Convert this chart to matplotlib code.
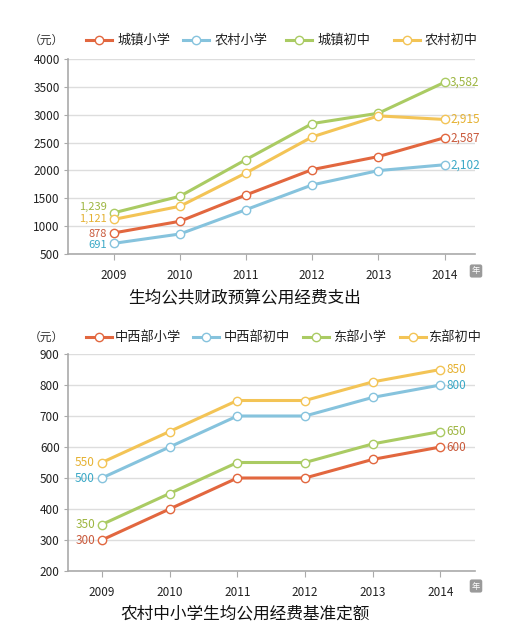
import matplotlib
matplotlib.use("Agg")
import matplotlib.pyplot as plt
from matplotlib.lines import Line2D
import numpy as np

plt.rcParams['font.family'] = ['Noto Sans CJK SC', 'DejaVu Sans']

years = ['2009', '2010', '2011', '2012', '2013', '2014']

# top chart: 生均公共财政预算公用经费支出
top_names = ['城镇小学', '农村小学', '城镇初中', '农村初中']
town_primary = [878, 1087, 1560, 2015, 2249, 2587]
rural_primary = [691, 859, 1296, 1740, 1997, 2102]
town_middle = [1239, 1536, 2195, 2841, 3027, 3582]
rural_middle = [1121, 1356, 1955, 2602, 2979, 2915]
top_series = [town_primary, rural_primary, town_middle, rural_middle]
top_labels_first = ['878', '691', '1,239', '1,121']
top_labels_last = ['2,587', '2,102', '3,582', '2,915']

# bottom chart: 农村中小学生均公用经费基准定额
bot_names = ['中西部小学', '中西部初中', '东部小学', '东部初中']
mw_primary = [300, 400, 500, 500, 560, 600]
mw_middle = [500, 600, 700, 700, 760, 800]
east_primary = [350, 450, 550, 550, 610, 650]
east_middle = [550, 650, 750, 750, 810, 850]
bot_series = [mw_primary, mw_middle, east_primary, east_middle]

line_colors = ['#E2673F', '#86C3DD', '#AACB63', '#F3C456']
text_colors = ['#C9593B', '#3AA8C6', '#9DB540', '#E5B131']
grid_c = '#DDDDDD'
axis_c = '#AAAAAA'

fig = plt.figure(figsize=(5.22, 6.42), dpi=100)
fig.patch.set_facecolor('white')


def draw_chart(ax, series, ylim, yticks, xlim, lab_first, lab_last, dy_first, fs_first):
    x = np.arange(len(years))
    for s, lc, tc, lf, ll, dy in zip(series, line_colors, text_colors,
                                      lab_first, lab_last, dy_first):
        ax.plot(x, s, color=lc, lw=2.2, marker='o', ms=6, mfc='white',
                mec=lc, mew=1.0, zorder=3, solid_capstyle='round')
        ax.annotate(lf, (x[0], s[0]), xytext=(-5, dy), textcoords='offset points',
                    ha='right', va='center', color=tc, fontsize=fs_first)
        ax.annotate(ll, (x[-1], s[-1]), xytext=(4, 0), textcoords='offset points',
                    ha='left', va='center', color=tc, fontsize=8.5)
    ax.set_xlim(*xlim)
    ax.set_ylim(*ylim)
    ax.set_yticks(yticks)
    ax.set_yticklabels([str(v) for v in yticks], fontsize=8.5, color='#222222')
    ax.set_xticks(x)
    ax.set_xticklabels(years, fontsize=8.5, color='#222222')
    ax.yaxis.grid(True, color=grid_c, lw=1)
    ax.set_axisbelow(True)
    for k in ['top', 'right']:
        ax.spines[k].set_visible(False)
    for k in ['left', 'bottom']:
        ax.spines[k].set_color(axis_c)
        ax.spines[k].set_linewidth(1.2)
    ax.tick_params(axis='y', length=3, color=axis_c, pad=3)
    ax.tick_params(axis='x', length=4, color=axis_c, pad=7)


def draw_legend(y, names, xs_line, xs_text):
    fig.text(0.088, y, '（元）', fontsize=8.5, color='#333333', ha='center', va='center')
    for name, lc, xl, xt in zip(names, line_colors, xs_line, xs_text):
        fig.add_artist(Line2D([xl / 522, (xl + 26) / 522], [y, y], color=lc, lw=2.2,
                              transform=fig.transFigure))
        fig.add_artist(Line2D([(xl + 13) / 522], [y], marker='o', ms=6, mfc='white',
                              mec=lc, mew=1.0, transform=fig.transFigure))
        fig.text(xt / 522, y, name, fontsize=9.5, color='#222222', ha='left', va='center')


def year_badge(y):
    fig.text(476 / 522, y, '年', fontsize=6, color='white', ha='center', va='center',
             bbox=dict(boxstyle='round,pad=0.25', fc='#9A9A9A', ec='none'))


ax1 = fig.add_axes([68 / 522, 1 - 254 / 642, 407 / 522, 195 / 642])
draw_chart(ax1, top_series, (500, 4000), list(range(500, 4001, 500)), (-0.69, 5.46),
           top_labels_first, top_labels_last, [-0.5, -1.5, 4, 0], 8)
draw_legend(1 - 40 / 642, top_names, [86, 183, 286, 394], [117, 215, 317, 425])
year_badge(1 - 271 / 642)
fig.text(245 / 522, 1 - 298 / 642, '生均公共财政预算公用经费支出', fontsize=12,
         color='#111111', ha='center', va='center')

ax2 = fig.add_axes([68 / 522, 1 - 571 / 642, 407 / 522, 217 / 642])
bot_first = [str(s[0]) for s in bot_series]
bot_last = [str(s[-1]) for s in bot_series]
draw_chart(ax2, bot_series, (200, 900), list(range(200, 901, 100)), (-0.50, 5.51),
           bot_first, bot_last, [0, 0, 0, 0], 8.5)
draw_legend(1 - 337 / 642, bot_names, [86, 193, 303, 400], [115, 224, 333, 428])
year_badge(1 - 586 / 642)
fig.text(245 / 522, 1 - 614 / 642, '农村中小学生均公用经费基准定额', fontsize=12,
         color='#111111', ha='center', va='center')

fig.savefig('out.png', dpi=100, facecolor='white')
